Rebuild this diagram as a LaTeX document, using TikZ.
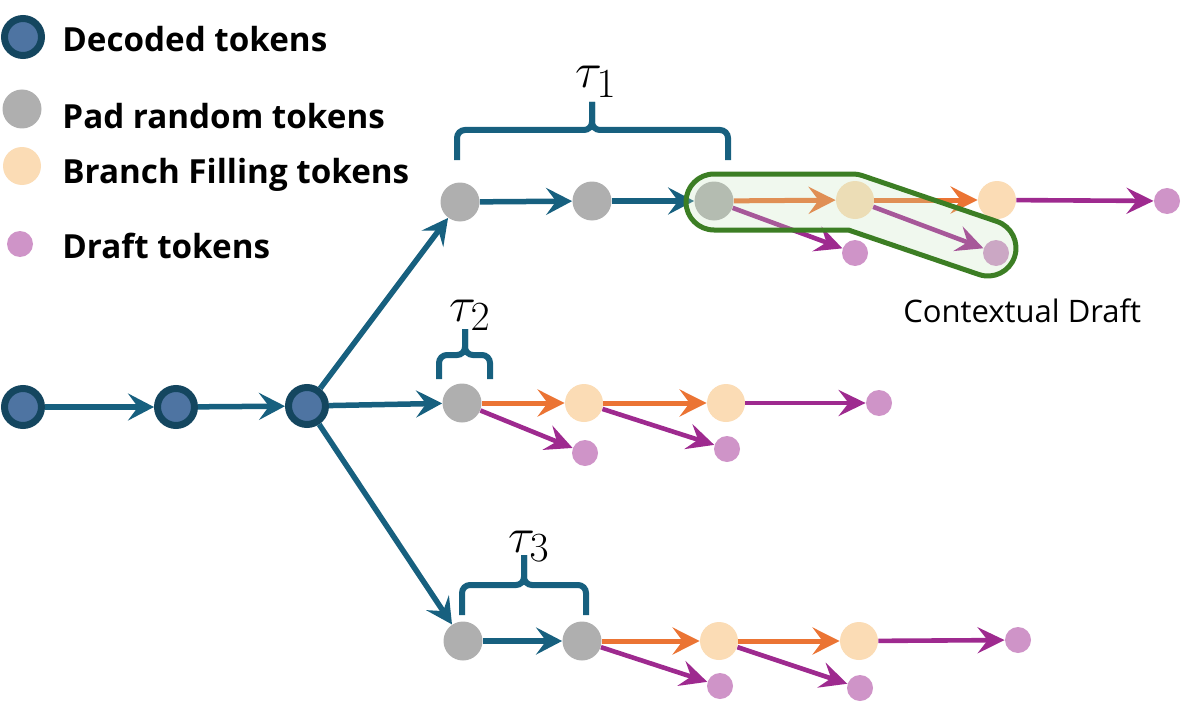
\documentclass[tikz,border=0pt]{standalone}
\usepackage{fontspec}
\setmainfont{Open Sans}
\usetikzlibrary{arrows.meta}
\definecolor{decfill}{RGB}{78,116,162}
\definecolor{decborder}{RGB}{20,70,95}
\definecolor{ablue}{RGB}{23,96,127}
\definecolor{padgray}{RGB}{175,175,175}
\definecolor{peach}{RGB}{251,220,181}
\definecolor{draftc}{RGB}{207,148,200}
\definecolor{aorange}{RGB}{235,116,52}
\definecolor{apurple}{RGB}{158,42,143}
\definecolor{capgreen}{RGB}{60,126,36}
\definecolor{capfill}{RGB}{195,227,186}
\begin{document}
\begin{tikzpicture}[x=0.5pt,y=-0.5pt,
  dec/.style={circle, draw=decborder, fill=decfill, line width=3.5pt, minimum size=18.5pt, inner sep=0pt},
  pad/.style={circle, fill=padgray, minimum size=19.5pt, inner sep=0pt},
  fil/.style={circle, fill=peach, minimum size=19pt, inner sep=0pt},
  drf/.style={circle, fill=draftc, minimum size=13pt, inner sep=0pt},
  eblue/.style={draw=ablue, line width=2.75pt, -{Stealth[length=13pt,width=13.5pt,inset=5pt]}},
  eorange/.style={draw=aorange, line width=2.5pt, -{Stealth[length=13.5pt,width=13.5pt,inset=5pt]}},
  epurple/.style={draw=apurple, line width=2.3pt, -{Stealth[length=13.5pt,width=13pt,inset=5pt]}},
  bracepath/.style={draw=ablue, line width=3pt, rounded corners=4pt},
  legtext/.style={anchor=base west, font=\fontsize{16.6pt}{20pt}\selectfont\bfseries, inner sep=0pt},
  taulabel/.style={anchor=base west, font=\fontsize{29pt}{34pt}\selectfont, inner sep=0pt}
]
\useasboundingbox (0,0) rectangle (1188,717);

% legend
\node[dec] (ld) at (23,37) {};
\node[pad] (lp) at (22,109) {};
\node[fil] (lf) at (22,166) {};
\node[drf] (ldr) at (20,244) {};
\node[legtext] (tld) at (62,52) {Decoded tokens};
\node[legtext] (tlp) at (62,128) {Pad random tokens};
\node[legtext] (tlf) at (62,184) {Branch Filling tokens};
\node[legtext] (tldr) at (62,258) {Draft tokens};

% decoded
\node[dec] (d1) at (23,407) {};
\node[dec] (d2) at (176,407) {};
\node[dec] (d3) at (307,406) {};

% branch 1
\node[pad] (g11) at (460,202) {};
\node[pad] (g12) at (592,201) {};
\node[pad] (g13) at (714,201) {};
\node[fil] (p11) at (855,200) {};
\node[fil] (p12) at (997,200) {};
\node[drf] (x11) at (1167,201) {};
\node[drf] (dr11) at (855,253) {};
\node[drf] (dr12) at (996,253) {};

% branch 2
\node[pad] (g21) at (462,403) {};
\node[fil] (p21) at (584,403) {};
\node[fil] (p22) at (726,403) {};
\node[drf] (x21) at (879,403) {};
\node[drf] (dr21) at (585,453) {};
\node[drf] (dr22) at (727,449) {};

% branch 3
\node[pad] (g31) at (463,641) {};
\node[pad] (g32) at (582,641) {};
\node[fil] (p31) at (719,641) {};
\node[fil] (p32) at (859,641) {};
\node[drf] (x31) at (1018,640) {};
\node[drf] (dr31) at (720,686) {};
\node[drf] (dr32) at (860,688) {};

% edges
\draw[eblue] (d1) -- (d2);
\draw[eblue] (d2) -- (d3);
\draw[eblue] (d3) -- (g11);
\draw[eblue] (d3) -- (g21);
\draw[eblue] (d3) -- (g31);

\draw[eblue] (g11) -- (g12);
\draw[eblue] (g12) -- (g13);
\draw[eorange] (g13) -- (p11);
\draw[eorange] (p11) -- (p12);
\draw[epurple] (p12) -- (x11);
\draw[epurple] (g13) -- (dr11);
\draw[epurple] (p11) -- (dr12);

\draw[eorange] (g21) -- (p21);
\draw[eorange] (p21) -- (p22);
\draw[epurple] (p22) -- (x21);
\draw[epurple] (g21) -- (dr21);
\draw[epurple] (p21) -- (dr22);

\draw[eblue] (g31) -- (g32);
\draw[eorange] (g32) -- (p31);
\draw[eorange] (p31) -- (p32);
\draw[epurple] (p32) -- (x31);
\draw[epurple] (g32) -- (dr31);
\draw[epurple] (p31) -- (dr32);

% braces
\draw[bracepath] (457,160) -- (457,130) -- (592,130) -- (592,102);
\draw[bracepath] (728,160) -- (728,130) -- (592,130) -- (592,102);
\node[taulabel] (tau1) at (575,88) {$\tau_1$};

\draw[bracepath] (439,379) -- (439,355) -- (465,355) -- (465,329);
\draw[bracepath] (490,379) -- (490,355) -- (465,355) -- (465,329);
\node[taulabel] (tau2) at (449,321) {$\tau_2$};

\draw[bracepath] (462,615) -- (462,585) -- (524,585) -- (524,555);
\draw[bracepath] (586,615) -- (586,585) -- (524,585) -- (524,555);
\node[taulabel] (tau3) at (508,552) {$\tau_3$};

% contextual draft capsule
\path[fill=capfill, fill opacity=0.25, draw=capgreen, line width=2.5pt, line join=round]
  (714,174) -- (853,174) arc[start angle=-90, end angle=-71.2, radius=28]
  -- (997.0,221.5) arc[start angle=-71.2, end angle=108.8, radius=28]
  -- (848.4,230) -- (714,230) arc[start angle=90, end angle=270, radius=28] -- cycle;
\node[anchor=base west, inner sep=0pt, font=\fontsize{15.5pt}{19pt}\selectfont] (ctx) at (903,322) {Contextual Draft};
\end{tikzpicture}
\end{document}
